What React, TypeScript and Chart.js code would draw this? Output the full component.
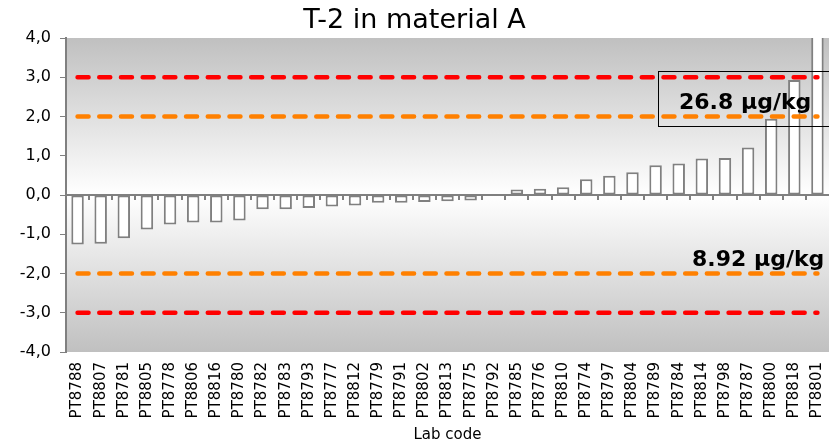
import React, { useEffect, useRef } from 'react';
import { Chart, registerables } from 'chart.js';

Chart.register(...registerables);

const labCodes = [
  'PT8788', 'PT8807', 'PT8781', 'PT8805', 'PT8778', 'PT8806', 'PT8816', 'PT8780',
  'PT8782', 'PT8783', 'PT8793', 'PT8777', 'PT8812', 'PT8779', 'PT8791', 'PT8802',
  'PT8813', 'PT8775', 'PT8792', 'PT8785', 'PT8776', 'PT8810', 'PT8774', 'PT8797',
  'PT8804', 'PT8789', 'PT8784', 'PT8814', 'PT8798', 'PT8787', 'PT8800', 'PT8818',
  'PT8801',
];

const zScores = [
  -1.26, -1.24, -1.10, -0.88, -0.75, -0.70, -0.70, -0.65,
  -0.36, -0.36, -0.33, -0.29, -0.27, -0.20, -0.20, -0.18,
  -0.16, -0.14, 0.0, 0.14, 0.16, 0.20, 0.40, 0.49,
  0.58, 0.76, 0.80, 0.93, 0.94, 1.21, 1.94, 2.93,
  4.6,
];

const limitValues = [3, 2, -2, -3];
const limitColors = ['#ff0000', '#ff8000', '#ff8000', '#ff0000'];

const yMin = -4;
const yMax = 4;

const chartTitle = 'T-2 in material A';
const xAxisTitle = 'Lab code';
const assignedValueText = '26.8 µg/kg';
const sigmaText = '8.92 µg/kg';

const FONT = '"DejaVu Sans", Verdana, sans-serif';

const decorPlugin = {
  id: 'decor',
  beforeDraw(chart: any) {
    const { ctx, chartArea: a } = chart;
    ctx.save();
    const g = ctx.createLinearGradient(0, a.top, 0, a.bottom);
    g.addColorStop(0, '#c0c0c0');
    g.addColorStop(0.5, '#ffffff');
    g.addColorStop(1, '#c0c0c0');
    ctx.fillStyle = g;
    ctx.fillRect(a.left, a.top, a.right - a.left, a.bottom - a.top);
    ctx.fillStyle = '#000';
    ctx.font = `27px ${FONT}`;
    ctx.textAlign = 'center';
    ctx.textBaseline = 'alphabetic';
    ctx.fillText(chartTitle, chart.width / 2, 28);
    ctx.restore();
  },
  afterDatasetsDraw(chart: any) {
    const { ctx, chartArea: a } = chart;
    const xs = chart.scales.x;
    const ys = chart.scales.y;
    const y0 = ys.getPixelForValue(0);
    ctx.save();
    // zero axis line
    ctx.strokeStyle = '#808080';
    ctx.lineWidth = 2;
    ctx.beginPath();
    ctx.moveTo(a.left, y0);
    ctx.lineTo(a.right, y0);
    ctx.stroke();
    // category boundary ticks
    const n = labCodes.length;
    ctx.beginPath();
    for (let i = 1; i < n; i++) {
      const bx = Math.round((xs.getPixelForValue(i - 1) + xs.getPixelForValue(i)) / 2);
      ctx.moveTo(bx, y0);
      ctx.lineTo(bx, y0 + 5);
    }
    ctx.stroke();

    // annotation box + texts
    ctx.strokeStyle = '#000';
    ctx.lineWidth = 1;
    const boxTop = Math.round(ys.getPixelForValue(3.16)) + 0.5;
    const boxBottom = Math.round(ys.getPixelForValue(1.76)) + 0.5;
    const boxLeft = Math.round(a.right - 171) + 0.5;
    ctx.strokeRect(boxLeft, boxTop, 200, boxBottom - boxTop);

    ctx.fillStyle = '#000';
    ctx.font = `bold 22px ${FONT}`;
    ctx.textAlign = 'left';
    ctx.textBaseline = 'alphabetic';
    ctx.fillText(assignedValueText, a.right - 150, ys.getPixelForValue(2.18));
    ctx.fillText(sigmaText, a.right - 137, ys.getPixelForValue(-1.81));
    ctx.restore();
  },
};

export default function App() {
  const canvasRef = useRef<HTMLCanvasElement | null>(null);

  useEffect(() => {
    const canvas = canvasRef.current;
    if (!canvas) return;

    const lineDatasets = limitValues.map((v, i) => ({
      type: 'line' as const,
      label: `limit ${v}`,
      data: labCodes.map(() => v),
      borderColor: limitColors[i],
      backgroundColor: limitColors[i],
      borderWidth: 4.5,
      borderDash: [11, 10.7],
      borderCapStyle: 'round' as const,
      pointRadius: 0,
      fill: false,
      order: 0,
    }));

    const chart = new Chart(canvas, {
      type: 'bar',
      data: {
        labels: labCodes,
        datasets: [
          {
            type: 'bar',
            label: 'z-score',
            data: zScores,
            backgroundColor: '#ffffff',
            borderColor: '#808080',
            borderWidth: 2,
            borderSkipped: false,
            categoryPercentage: 1,
            barPercentage: 0.54,
            clip: 0,
            order: 1,
          } as any,
          ...lineDatasets,
        ],
      },
      options: {
        animation: false,
        responsive: false,
        maintainAspectRatio: false,
        layout: { padding: { top: 38, left: 0, right: 0, bottom: 0 } },
        plugins: {
          legend: { display: false },
          tooltip: { enabled: false },
          title: { display: false },
        },
        scales: {
          x: {
            type: 'category',
            offset: true,
            grid: { display: false },
            border: { display: false },
            ticks: {
              font: { family: FONT, size: 15 },
              color: '#000',
              minRotation: 90,
              maxRotation: 90,
              autoSkip: false,
              padding: 2,
            },
            title: {
              display: true,
              text: xAxisTitle,
              font: { family: FONT, size: 15 },
              color: '#000',
              padding: { top: 0, bottom: 3 },
            },
            afterFit(s: any) {
              s.height = 95;
              s.paddingLeft = 0;
              s.paddingRight = 0;
            },
          },
          y: {
            min: yMin,
            max: yMax,
            ticks: {
              stepSize: 1,
              font: { family: FONT, size: 16 },
              color: '#000',
              padding: 9,
              callback: (v: any) => Number(v).toFixed(1).replace('.', ','),
            },
            grid: {
              drawOnChartArea: false,
              drawTicks: true,
              tickLength: 6,
              color: '#808080',
              lineWidth: 1,
            },
            border: { display: true, color: '#808080', width: 2 },
            afterFit(s: any) {
              s.width = 66;
              s.paddingTop = 0;
              s.paddingBottom = 0;
            },
          },
        },
      } as any,
      plugins: [decorPlugin],
    });

    return () => {
      chart.destroy();
    };
  }, []);

  return (
    <div style={{ position: 'absolute', left: 0, top: 0, width: 829, height: 447 }}>
      <canvas ref={canvasRef} width={829} height={447} style={{ display: 'block' }} />
    </div>
  );
}
